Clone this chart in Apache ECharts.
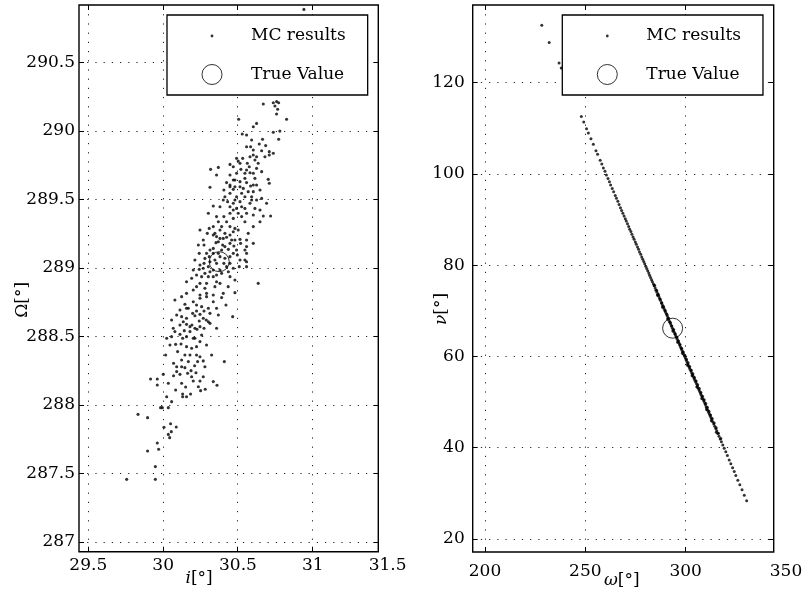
<!DOCTYPE html>
<html>
<head>
<meta charset="utf-8">
<script src="https://cdn.jsdelivr.net/npm/echarts@6/dist/echarts.min.js"></script>
<style>
  html, body { margin: 0; padding: 0; background: #fff; }
  #chart { width: 808px; height: 595px; }
</style>
</head>
<body>
<div id="chart"></div>
<script>
// Monte Carlo samples: inclination i [deg] and right ascension of the ascending node Omega [deg]
const incRaanSamples = [
  [29.757,287.457],[29.949,287.457],[29.949,287.550],[29.897,287.664],[29.971,287.676],[29.962,287.722],
  [30.045,287.761],[30.036,287.785],[30.056,287.805],[30.007,287.837],[30.051,287.863],[30.089,287.839],
  [29.833,287.931],[29.897,287.907],[29.984,287.980],[29.996,287.980],[30.036,287.980],[30.025,288.060],
  [30.132,288.060],[30.132,288.080],[30.185,288.080],[30.152,288.131],[30.252,288.104],[30.283,288.114],
  [30.362,288.143],[29.962,288.145],[29.917,288.189],[29.962,288.189],[30.002,288.223],[30.071,288.213],
  [30.114,288.223],[30.147,288.272],[30.125,288.279],[30.165,288.231],[30.188,288.250],[30.221,288.235],
  [30.212,288.286],[30.232,288.316],[30.270,288.321],[30.248,288.352],[30.326,288.364],[30.411,288.316],
  [30.071,288.304],[30.018,288.364],[30.047,288.437],[30.085,288.442],[30.121,288.445],[30.158,288.425],
  [30.192,288.413],[30.132,288.486],[30.158,288.498],[30.214,288.486],[30.114,288.515],[30.058,288.498],
  [30.143,288.542],[30.228,288.552],[30.275,288.559],[30.194,288.583],[30.158,288.588],[30.243,288.612],
  [30.290,288.620],[30.058,288.620],[30.125,288.644],[30.199,288.668],[30.248,288.661],[30.315,288.668],
  [30.359,288.705],[30.422,288.729],[30.467,288.644],[30.147,288.734],[30.203,288.753],[30.248,288.778],
  [30.292,288.790],[30.114,288.693],[30.170,288.705],[30.275,288.685],[30.304,288.607],[30.259,288.510],
  [30.181,288.364],[30.098,288.389],[30.158,288.632],[30.225,288.729],[30.337,288.753],[30.393,288.783],
  [30.069,288.559],[30.214,288.559],[30.092,288.279],[30.203,288.175],[30.281,288.279],
  [30.944,290.886],[30.739,290.205],[30.761,290.213],[30.750,290.181],[30.768,290.157],[30.775,290.205],
  [30.672,290.196],[30.828,290.084],[30.761,290.123],[30.507,290.084],[30.627,290.054],[30.605,290.030],
  [30.783,289.998],[30.739,289.989],[30.775,289.938],[30.531,289.977],[30.560,289.969],[30.667,289.938],
  [30.587,289.884],[30.645,289.904],[30.688,289.892],[30.605,289.860],[30.661,289.855],[30.712,289.848],
  [30.739,289.836],[30.627,289.811],[30.616,289.787],[30.534,289.799],[30.565,289.763],[30.504,289.780],
  [30.449,289.755],[30.371,289.733],[30.578,289.738],[30.638,289.763],[30.712,289.823],[30.627,289.726],
  [30.522,289.719],[30.493,289.690],[30.549,289.690],[30.583,289.694],[30.661,289.702],[30.616,289.653],
  [30.449,289.678],[30.482,289.641],[30.516,289.629],[30.560,289.622],[30.587,289.597],[30.627,289.605],
  [30.705,289.646],[30.712,289.617],[30.650,289.568],[30.538,289.580],[30.471,289.573],[30.449,289.544],
  [30.408,289.568],[30.315,289.588],[30.493,289.519],[30.549,289.519],[30.594,289.519],[30.627,289.495],
  [30.516,289.483],[30.471,289.471],[30.433,289.483],[30.583,289.471],[30.549,289.434],[30.616,289.434],
  [30.493,289.434],[30.560,289.398],[30.605,289.386],[30.650,289.422],[30.721,289.378],[30.672,289.378],
  [30.650,289.337],[30.404,289.495],[30.382,289.446],[30.359,289.374],[30.449,289.398],[30.471,289.361],
  [30.527,289.374],[30.549,289.337],[30.426,289.337],[30.393,289.301],[30.449,289.301],[30.482,289.288],
  [30.471,289.264],[30.504,289.276],[30.560,289.203],[30.560,289.155],[30.516,289.208],[30.449,289.240],
  [30.426,289.223],[30.404,289.215],[30.371,289.191],[30.359,289.228],[30.310,289.288],[30.248,289.276],
  [30.449,289.179],[30.493,289.130],[30.560,289.106],[30.549,289.057],[30.337,289.142],[30.355,289.184],
  [30.315,289.130],[30.393,289.130],[30.382,289.082],[30.359,289.033],[30.315,289.045],[30.281,289.069],
  [30.214,289.057],[30.248,289.021],[30.270,288.997],[30.304,289.009],[30.337,288.984],[30.382,288.984],
  [30.408,289.033],[30.426,289.009],[30.393,288.960],[30.449,288.936],[30.482,288.911],[30.560,289.045],
  [30.560,289.009],[30.638,288.887],[30.203,288.984],[30.225,288.948],[30.259,288.936],[30.304,288.936],
  [30.337,288.936],[30.359,288.899],[30.292,288.887],[30.248,288.887],[30.158,288.814],[30.203,288.838],
  [30.248,288.802],[30.292,288.814],[30.337,288.802],[30.404,288.814],[30.482,288.819],[30.319,289.719],
  [30.359,289.678],[30.337,289.451],[30.304,289.398],[30.471,289.738],[30.516,289.763],[30.583,289.811],
  [30.482,289.592],[30.605,289.556],[30.661,289.507],[30.449,289.592],[30.527,289.544],[30.382,289.276],
  [30.348,289.252],[30.270,289.203],[30.237,289.167],[30.292,289.106],[30.415,289.155],[30.471,289.106],
  [30.516,289.057],[30.605,289.179],[30.482,289.203],[30.382,288.887],[30.437,288.863],[30.192,288.924],
  [30.158,288.899],[30.225,288.863],[30.281,288.851],[30.348,288.863],[30.449,289.082],[30.605,289.301],
  [30.571,289.252],[30.694,289.471],[30.683,289.811],[30.560,289.884],[30.594,289.933],[30.471,289.641],
  [30.426,289.622],[30.549,289.653],[30.080,288.766],[30.125,288.790],[30.225,288.685],[30.259,288.717],
  [30.181,288.571],[30.114,288.583],[30.248,288.462],[30.225,288.425],[30.170,288.316],[30.248,288.175],
  [30.125,288.158],[30.085,288.109],[30.158,288.060],[30.058,288.024],[30.337,288.170],[30.304,288.705],
  [30.371,288.656],[30.203,288.486],[30.092,288.656],
  [30.275,289.033],[30.310,289.082],[30.348,289.057],[30.371,289.106],[30.415,289.070],[30.449,289.033],
  [30.471,288.997],[30.511,289.009],[30.438,288.972],[30.359,288.948],[30.315,288.972],[30.281,288.960],
  [30.243,288.989],[30.337,289.106],[30.400,289.167],[30.438,289.135],[30.475,289.160],[30.520,289.179],
  [30.549,289.130],[30.498,289.094],[30.460,289.203],[30.415,289.252],[30.382,289.215],[30.337,289.240],
  [30.297,289.252],[30.275,289.167],[30.243,289.106],[30.337,289.301],[30.371,289.337],[30.408,289.374],
  [30.471,289.422],[30.504,289.398],[30.449,289.446],[30.482,289.495],[30.527,289.446],[30.594,289.495],
  [30.571,289.556],[30.516,289.592],[30.605,289.605],[30.560,289.714],[30.605,289.690],[30.493,289.799],
  [30.605,289.823],[30.449,289.605],[30.415,289.519],
  [30.158,288.705],[30.214,288.651],[30.270,288.632],[30.181,288.535],[30.248,288.571],[30.225,288.364],
  [30.292,288.437],[30.147,288.364],[30.125,288.328],[30.092,288.243],[30.192,288.206],[30.270,288.206],
  [30.036,288.158],[30.237,288.133],[30.315,288.595],[30.359,288.559],[30.136,288.607],[30.080,288.535],
  [30.025,288.486]
];
const incRaanTrue = [[30.377, 289.045]];

// Monte Carlo samples: argument of perigee omega [deg] and true anomaly nu [deg]
const argpNuSamples = [
  [228.3,132.6],[232.0,128.8],[236.9,124.3],[238.0,123.2],
  [248.0,112.6],[249.2,111.4],[250.6,109.9],[251.5,109.0],[252.8,107.7],[254.0,106.5],[255.3,105.1],
  [256.1,104.3],[257.4,103.0],[258.2,102.2],[259.0,101.3],[259.8,100.6],[260.5,99.8],[261.3,99.0],
  [262.0,98.3],[262.6,97.6],[263.4,96.8],[264.1,96.1],[264.9,95.3],[265.5,94.7],[266.2,94.0],
  [266.8,93.3],[267.5,92.6],[268.1,92.0],[268.7,91.4],[269.3,90.8],[269.9,90.2],[270.4,89.7],
  [271.0,89.1],[271.6,88.5],[272.1,87.9],[272.7,87.4],[273.2,86.8],[273.8,86.2],[274.3,85.7],
  [274.9,85.1],[275.4,84.6],[276.0,84.0],[276.5,83.5],[277.0,82.9],[277.6,82.4],[278.1,81.8],
  [278.6,81.3],[279.1,80.8],[279.6,80.3],[280.1,79.8],[280.6,79.3],[281.1,78.8],[281.6,78.3],
  [282.0,77.8],[282.5,77.3],[283.0,76.8],[283.4,76.4],[283.9,75.9],[284.3,75.5],[284.8,75.0],
  [285.2,74.5],[285.7,74.1],[286.1,73.6],[286.6,73.2],[287.0,72.7],[287.4,72.3],[287.9,71.8],
  [288.3,71.4],[288.7,71.0],[289.2,70.5],[289.6,70.1],[290.0,69.7],[290.4,69.3],[290.9,68.8],
  [291.3,68.3],[291.7,67.9],[292.1,67.5],[292.5,67.1],[292.9,66.7],[293.4,66.2],[293.8,65.8],
  [294.2,65.4],[294.6,65.0],[295.0,64.6],[295.4,64.2],[295.8,63.8],[296.2,63.4],[296.6,63.0],
  [297.0,62.5],[297.4,62.1],[297.8,61.7],[298.2,61.3],[298.6,60.9],[299.0,60.5],[299.4,60.1],
  [299.8,59.7],[300.2,59.3],[300.6,58.9],[301.0,58.4],[301.4,58.0],[301.8,57.6],[302.2,57.2],
  [302.6,56.8],[303.0,56.4],[303.4,56.0],[303.8,55.6],[304.2,55.2],[304.6,54.8],[305.0,54.4],
  [305.4,54.0],[305.8,53.5],[306.2,53.1],[306.6,52.7],[307.0,52.3],[307.4,51.9],[307.8,51.5],
  [308.2,51.1],[308.6,50.7],[309.0,50.3],[309.4,49.9],[309.8,49.5],[310.2,49.0],[310.6,48.6],
  [311.0,48.2],[311.4,47.8],[311.8,47.4],[312.2,47.0],[312.6,46.6],[313.0,46.2],[313.5,45.7],
  [314.0,45.2],[314.5,44.7],[315.0,44.2],[315.5,43.7],[316.0,43.1],[316.6,42.5],[317.2,41.9],
  [317.8,41.3],[318.5,40.6],[319.2,39.9],[320.0,39.1],[320.8,38.3],[321.7,37.3],[322.5,36.5],
  [323.4,35.6],[324.2,34.8],[325.0,33.9],[326.0,32.9],[327.0,31.9],[328.1,30.8],[329.2,29.6],
  [330.4,28.4],
  [284.5,75.6],[285.5,74.5],[286.4,73.6],[287.3,72.6],[288.1,71.8],[289.0,70.9],[289.8,70.1],
  [290.7,69.2],[291.5,68.4],[292.3,67.5],[293.1,66.7],[294.0,65.9],[294.8,65.0],[295.6,64.2],
  [296.4,63.4],[297.2,62.6],[298.0,61.8],[298.8,61.0],[299.6,60.2],[300.4,59.4],[301.2,58.6],
  [302.0,57.8],[302.8,57.0],[303.6,56.2],[304.4,55.4],[305.2,54.6],[306.0,53.8],[306.8,53.0],
  [307.6,52.1],[308.4,51.3],[309.2,50.5],[310.0,49.7],[310.8,48.9],[311.6,48.0],[312.4,47.2],
  [313.2,46.4],[314.2,45.4],[315.2,44.4],[316.3,43.2],[317.5,42.0],
  [286.0,73.4],[288.5,70.8],[291.0,68.2],[293.6,65.6],[296.0,63.1],[298.4,60.7],[300.9,58.1],
  [303.2,55.8],[305.6,53.3],[308.0,50.8],[310.4,48.4],[312.8,45.9],[315.3,43.4]
];
const argpNuTrue = [[293.5, 66.2]];

// Axis ticks and visible extents of each frame
const incTicks = [29.5, 30, 30.5, 31, 31.5];
const raanTicks = [287, 287.5, 288, 288.5, 289, 289.5, 290, 290.5];
const argpTicks = [200, 250, 300, 350];
const nuTicks = [20, 40, 60, 80, 100, 120];
const incExtent = [29.4377, 31.4423];
const raanExtent = [286.929, 290.918];
const argpExtent = [193.87, 343.87];
const nuExtent = [17.15, 137.03];

const FONT = 'DejaVu Serif';
const dotted = { color: '#222', width: 1, type: [1.2, 7] };

function inRange(vals, ext) { return vals.filter(v => v >= ext[0] && v <= ext[1]); }

function frameAxes(gridIndex, xExt, yExt, xTicks, yTicks, yLabelMargin, xName, yName, xNameOpt, yNameOpt) {
  const tick = { show: true, inside: true, length: 5, lineStyle: { color: '#000', width: 1 } };
  const xs = inRange(xTicks, xExt), ys = inRange(yTicks, yExt);
  const nameStyle = (padding) => ({ fontFamily: FONT, fontSize: 17, color: '#000', padding,
    rich: { it: { fontFamily: FONT, fontSize: 17, fontStyle: 'italic', color: '#000' } } });
  return {
    x: [
      { type: 'value', gridIndex, position: 'bottom', min: xExt[0], max: xExt[1],
        axisLine: { show: false }, axisTick: Object.assign({ customValues: xs }, tick),
        axisLabel: { show: false, customValues: xs },
        splitLine: { show: true, lineStyle: Object.assign({}, dotted, { type: [1.2, 8] }) },
        name: xName, nameLocation: 'middle', nameGap: xNameOpt.gap, nameMoveOverlap: false,
        nameTextStyle: nameStyle(xNameOpt.padding) },
      { type: 'value', gridIndex, position: 'top', min: xExt[0], max: xExt[1],
        axisLine: { show: false }, axisTick: Object.assign({ customValues: xs }, tick),
        axisLabel: { show: false, customValues: xs }, splitLine: { show: false } }
    ],
    y: [
      { type: 'value', gridIndex, position: 'left', min: yExt[0], max: yExt[1],
        axisLine: { show: false }, axisTick: Object.assign({ customValues: ys }, tick),
        axisLabel: { show: true, customValues: ys, margin: yLabelMargin, fontFamily: FONT, fontSize: 17, color: '#000' },
        splitLine: { show: true, lineStyle: dotted },
        name: yName, nameLocation: 'middle', nameRotate: 90, nameGap: yNameOpt.gap, nameMoveOverlap: false,
        nameTextStyle: nameStyle(yNameOpt.padding) },
      { type: 'value', gridIndex, position: 'right', min: yExt[0], max: yExt[1],
        axisLine: { show: false }, axisTick: Object.assign({ customValues: ys }, tick),
        axisLabel: { show: false, customValues: ys }, splitLine: { show: false } }
    ]
  };
}

function labelAxes(gridIndex, ticks, margin) {
  return {
    x: { type: 'value', gridIndex, min: ticks[0], max: ticks[ticks.length - 1],
      axisLine: { show: false }, axisTick: { show: false }, splitLine: { show: false },
      axisLabel: { show: true, customValues: ticks, margin, fontFamily: FONT, fontSize: 17, color: '#000' } },
    y: { type: 'value', gridIndex, min: 0, max: 1, show: false }
  };
}

const leftAxes = frameAxes(0, incExtent, raanExtent, incTicks, raanTicks, 4,
  '{it|i}[°]', 'Ω[°]', { gap: 18, padding: [0, 59, 0, 0] }, { gap: 48, padding: [0, 43, 0, 0] });
const leftLabels = labelAxes(1, incTicks, 5);
const rightAxes = frameAxes(2, argpExtent, nuExtent, argpTicks, nuTicks, 8,
  '{it|ω}[°]', '{it|ν}[°]', { gap: 20, padding: [0, 3, 0, 0] }, { gap: 23, padding: [0, 61, 0, 0] });
const rightLabels = labelAxes(3, argpTicks, 11);

const frame = { show: true, borderColor: '#000', borderWidth: 1.4, backgroundColor: 'transparent' };

const dotIcon = 'path://M0,0L0,0M68,20L68,20M32.6,10a1.4,1.4 0 1,0 2.8,0a1.4,1.4 0 1,0 -2.8,0Z';
function legendAt(left) {
  return {
    left, top: 15, orient: 'vertical', itemWidth: 68, itemHeight: 20, itemGap: 18,
    padding: [11, 22, 10, 11], borderColor: '#000', borderWidth: 1.3, backgroundColor: '#fff',
    selectedMode: false,
    textStyle: { fontFamily: FONT, fontSize: 17, color: '#000' },
    data: [
      { name: 'MC results', icon: dotIcon, itemStyle: { color: '#000', borderWidth: 0 } },
      { name: 'True Value', icon: 'circle', itemStyle: { color: 'rgba(0,0,0,0)', borderColor: '#000', borderWidth: 1 } }
    ]
  };
}

const chart = echarts.init(document.getElementById('chart'), null, { renderer: 'canvas' });
chart.setOption({
  animation: false,
  backgroundColor: '#fff',
  textStyle: { fontFamily: FONT },
  grid: [
    Object.assign({ left: 79, top: 5, width: 299.3, height: 546.7 }, frame),
    { left: 88.3, top: 5, width: 299.3, height: 546.7, show: false },
    Object.assign({ left: 472.7, top: 5, width: 301, height: 547 }, frame),
    { left: 485, top: 5, width: 301, height: 547, show: false }
  ],
  xAxis: [leftAxes.x[0], leftAxes.x[1], leftLabels.x, rightAxes.x[0], rightAxes.x[1], rightLabels.x],
  yAxis: [leftAxes.y[0], leftAxes.y[1], leftLabels.y, rightAxes.y[0], rightAxes.y[1], rightLabels.y],
  legend: [legendAt(167), legendAt(562.3)],
  series: [
    { name: 'MC results', type: 'scatter', xAxisIndex: 0, yAxisIndex: 0, data: incRaanSamples,
      symbol: 'circle', symbolSize: 3.1, itemStyle: { color: '#000' }, silent: true },
    { name: 'True Value', type: 'scatter', xAxisIndex: 0, yAxisIndex: 0, data: incRaanTrue, z: 3,
      symbol: 'circle', symbolSize: 20, itemStyle: { color: 'rgba(0,0,0,0)', borderColor: '#000', borderWidth: 1 }, silent: true },
    { name: 'MC results', type: 'scatter', xAxisIndex: 3, yAxisIndex: 3, data: argpNuSamples,
      symbol: 'circle', symbolSize: 3.0, itemStyle: { color: '#000' }, silent: true },
    { name: 'True Value', type: 'scatter', xAxisIndex: 3, yAxisIndex: 3, data: argpNuTrue, z: 3,
      symbol: 'circle', symbolSize: 20, itemStyle: { color: 'rgba(0,0,0,0)', borderColor: '#000', borderWidth: 1 }, silent: true }
  ]
});
</script>
</body>
</html>
